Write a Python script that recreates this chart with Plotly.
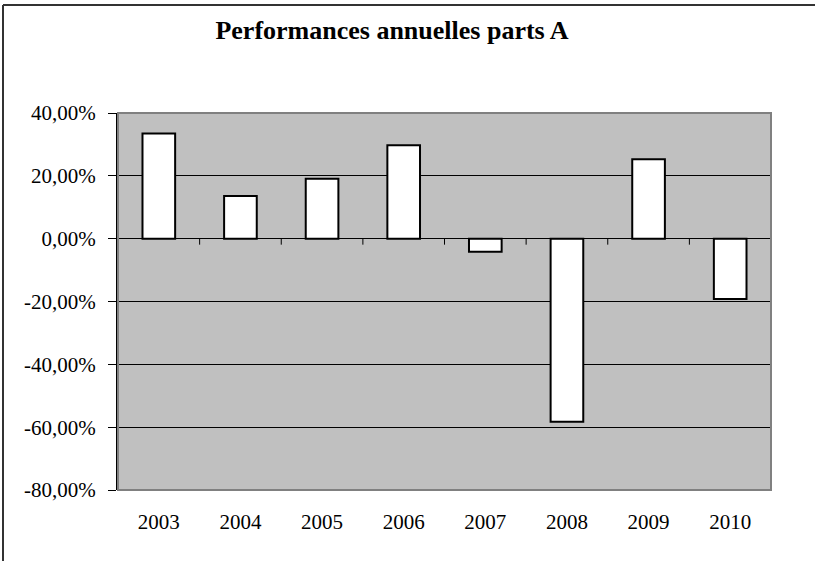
import plotly.graph_objects as go

years = ["2003", "2004", "2005", "2006", "2007", "2008", "2009", "2010"]
perf = [0.335, 0.136, 0.191, 0.297, -0.042, -0.583, 0.253, -0.192]
y_tickvals = [0.4, 0.2, 0.0, -0.2, -0.4, -0.6, -0.8]
y_ticktext = ["40,00%", "20,00%", "0,00%", "-20,00%", "-40,00%", "-60,00%", "-80,00%"]
title_text = "Performances annuelles parts A"

font_family = "Liberation Serif, Times New Roman, serif"

fig = go.Figure()
fig.add_trace(go.Bar(
    x=years, y=perf,
    marker=dict(color="white", line=dict(color="black", width=2)),
    width=0.4,
    hoverinfo="x+y",
))

L, R, T, B = 118, 44, 113, 71
W, H = 815, 561
pw, ph = W - L - R, H - T - B

shapes = []
# zero line ticks at category boundaries
for i in range(len(years)):
    shapes.append(dict(type="line", xref="x", yref="y", x0=i + 0.5, x1=i + 0.5,
                       ysizemode="pixel", yanchor=0, y0=0, y1=-6,
                       line=dict(color="black", width=1), layer="above"))
# plot area border (grey)
shapes.append(dict(type="rect", xref="paper", yref="paper", x0=0, x1=1, y0=0, y1=1,
                   line=dict(color="#808080", width=2), layer="above"))
# outer chart frame (left and top visible)
fx0 = (3 - L) / pw
fx1 = (W - L) / pw
fy1 = 1 + (T - 5) / ph
fy0 = -B / ph
shapes.append(dict(type="line", xref="paper", yref="paper", x0=fx0, x1=fx0,
                   y0=fy0, y1=fy1, line=dict(color="#333333", width=2)))
shapes.append(dict(type="line", xref="paper", yref="paper", x0=fx0, x1=fx1,
                   y0=fy1, y1=fy1, line=dict(color="#333333", width=2)))

fig.update_layout(
    width=W, height=H,
    margin=dict(l=L, r=R, t=T, b=B),
    paper_bgcolor="white",
    plot_bgcolor="#C0C0C0",
    showlegend=False,
    bargap=0.6,
    font=dict(family=font_family, size=21, color="black"),
    title=dict(text="<b>" + title_text + "</b>", x=392 / W, xanchor="center",
               y=1 - 30 / H, yanchor="middle",
               font=dict(family=font_family, size=26, color="black")),
    shapes=shapes,
)

fig.update_xaxes(
    type="category",
    range=[-0.5, len(years) - 0.5],
    showgrid=False, showline=False, zeroline=False,
    ticks="", ticklabelstandoff=17,
    tickfont=dict(family=font_family, size=21),
)
fig.update_yaxes(
    range=[-0.8, 0.4],
    tickvals=y_tickvals, ticktext=y_ticktext,
    showgrid=True, gridcolor="black", gridwidth=1,
    zeroline=True, zerolinecolor="black", zerolinewidth=1,
    showline=True, linecolor="black", linewidth=2,
    ticks="outside", ticklen=8, tickcolor="black", tickwidth=1,
    ticklabelstandoff=8,
    tickfont=dict(family=font_family, size=21),
)

fig.write_html("out.html", config={"displayModeBar": False},
               post_script="document.body.style.margin='0';")
